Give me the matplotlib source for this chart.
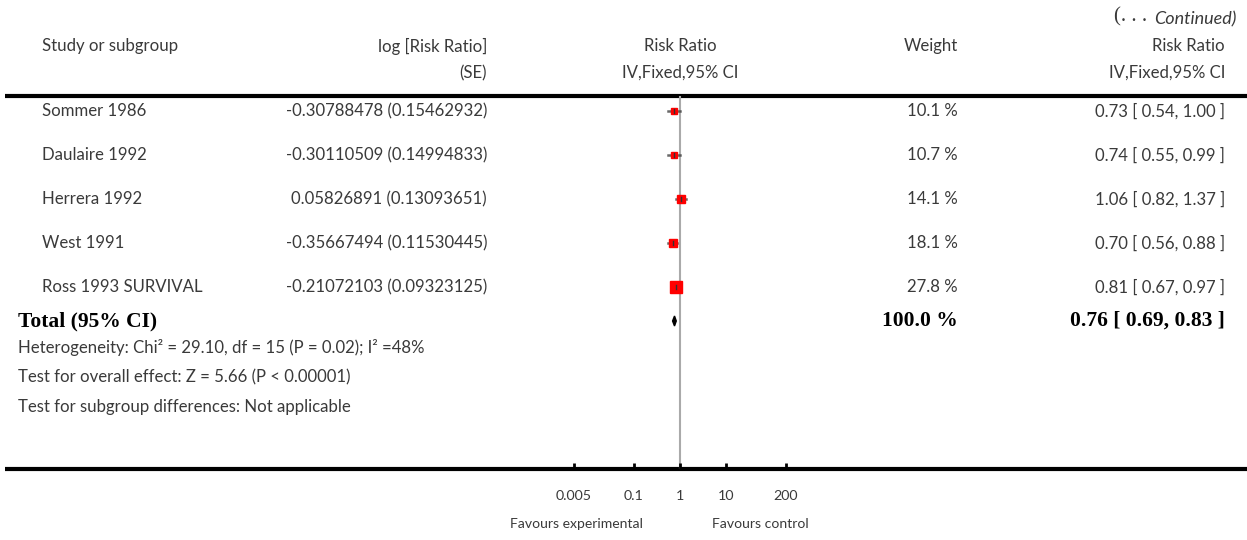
import matplotlib
matplotlib.use("Agg")
import matplotlib.pyplot as plt
import numpy as np
from matplotlib.patches import Polygon

studies = ["Sommer 1986", "Daulaire 1992", "Herrera 1992", "West 1991", "Ross 1993 SURVIVAL"]
log_rr_se = ["-0.30788478 (0.15462932)", "-0.30110509 (0.14994833)", "0.05826891 (0.13093651)",
             "-0.35667494 (0.11530445)", "-0.21072103 (0.09323125)"]
weights = [10.1, 10.7, 14.1, 18.1, 27.8]
rr = [0.73, 0.74, 1.06, 0.70, 0.81]
lo = [0.54, 0.55, 0.82, 0.56, 0.67]
hi = [1.00, 0.99, 1.37, 0.88, 0.97]
total_rr, total_lo, total_hi = 0.76, 0.69, 0.83
tick_vals = [0.005, 0.1, 1, 10, 200]
tick_labels = ["0.005", "0.1", "1", "10", "200"]

W, H = 1247, 540
fig = plt.figure(figsize=(W / 100, H / 100), dpi=100)
bg = fig.add_axes([0, 0, 1, 1])
bg.set_xlim(0, W)
bg.set_ylim(H, 0)
bg.axis("off")

sans = ["Lato", "DejaVu Sans"]
serif = ["Liberation Serif", "DejaVu Serif"]
fs = 12.1
lw_ = "normal"
col = "#3a3a3a"

def t(x, y, s, ha="left", size=fs, **kw):
    kw.setdefault("family", sans)
    kw.setdefault("weight", lw_)
    kw.setdefault("color", col)
    return bg.text(x, y, s, ha=ha, va="center", fontsize=size, **kw)

# headers
t(1236, 19, "Continued)", ha="right", size=13, style="italic")
t(1114, 17, "(. . .", ha="left", size=15, family=serif, weight="normal")
t(42, 46, "Study or subgroup")
t(487, 46, "log [Risk Ratio]", ha="right")
t(487, 73, "(SE)", ha="right")
t(680, 46, "Risk Ratio", ha="center")
t(680, 73, "IV,Fixed,95% CI", ha="center")
t(958, 46, "Weight", ha="right")
t(1225, 46, "Risk Ratio", ha="right")
t(1225, 73, "IV,Fixed,95% CI", ha="right")

bg.plot([5, W], [96, 96], color="black", lw=3, solid_capstyle="butt")
bg.plot([5, W], [469, 469], color="black", lw=3, solid_capstyle="butt")

row_y = [111, 155, 199, 243, 287]
for i, y in enumerate(row_y):
    t(42, y, studies[i])
    t(487, y, log_rr_se[i], ha="right")
    t(958, y, f"{weights[i]:.1f} %", ha="right")
    t(1225, y, f"{rr[i]:.2f} [ {lo[i]:.2f}, {hi[i]:.2f} ]", ha="right")

ty = 321
t(18, ty, "Total (95% CI)", size=15.5, family=serif, weight="bold", color="black")
t(958, ty, "100.0 %", ha="right", size=15.5, family=serif, weight="bold", color="black")
t(1225, ty, f"{total_rr:.2f} [ {total_lo:.2f}, {total_hi:.2f} ]", ha="right", size=15.5,
  family=serif, weight="bold", color="black")
t(18, 347, "Heterogeneity: Chi² = 29.10, df = 15 (P = 0.02); I² =48%")
t(18, 377, "Test for overall effect: Z = 5.66 (P < 0.00001)")
t(18, 407, "Test for subgroup differences: Not applicable")

# forest axes
x0, x1 = 574, 786
ax = fig.add_axes([x0 / W, 0, (x1 - x0) / W, 1])
ax.set_xscale("log")
ax.set_xlim(0.005, 200)
ax.set_ylim(H, 0)
ax.patch.set_alpha(0)
for s in ax.spines.values():
    s.set_visible(False)
ax.set_yticks([])
ax.set_xticks([])
ax.minorticks_off()

ax.plot([1, 1], [97, 468], color="#aaaaaa", lw=1.5, zorder=1)
for i, y in enumerate(row_y):
    ax.plot([lo[i], hi[i]], [y, y], color="#444444", lw=1.8, zorder=2, alpha=0.8)
    size = 3.0 + weights[i] * 0.3
    ax.plot([rr[i]], [y], marker="s", ms=size * 0.72, color="red", mec="red", zorder=3, ls="none")
    ax.plot([rr[i], rr[i]], [y - 2, y + 2], color="#333333", lw=1, zorder=4)
diamond = Polygon([[total_lo, ty], [total_rr, ty - 5], [total_hi, ty], [total_rr, ty + 5]],
                  closed=True, color="black", zorder=3)
ax.add_patch(diamond)

for v, lab in zip(tick_vals, tick_labels):
    ax.plot([v, v], [463, 469], color="black", lw=2, clip_on=False, solid_capstyle="butt")
    ax.text(v, 496, lab, ha="center", va="center", fontsize=10.3, family=sans, weight=lw_,
            color=col, clip_on=False)
ax.text(0.155, 524, "Favours experimental", ha="right", va="center", fontsize=10.1, family=sans,
        weight=lw_, color=col, clip_on=False)
ax.text(5.0, 524, "Favours control", ha="left", va="center", fontsize=10.1, family=sans,
        weight=lw_, color=col, clip_on=False)

fig.savefig("out.png", dpi=100)
